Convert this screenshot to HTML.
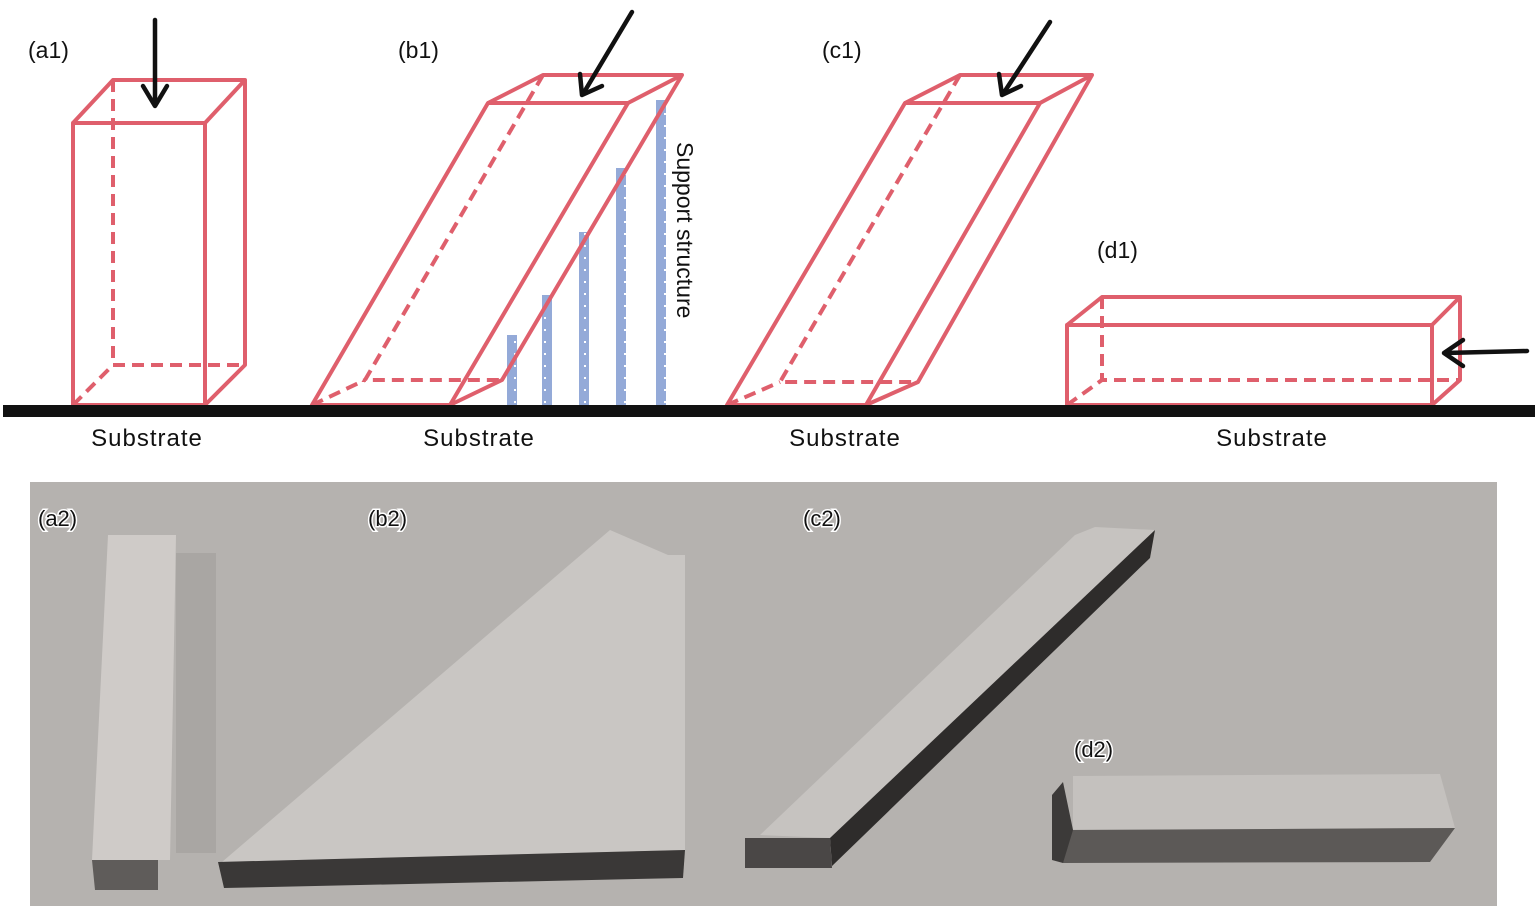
<!DOCTYPE html>
<html><head><meta charset="utf-8"><style>
html,body{margin:0;padding:0;background:#fff;}
svg{display:block;}
</style></head><body>
<svg width="1535" height="911" viewBox="0 0 1535 911" xmlns="http://www.w3.org/2000/svg">
<defs>
<pattern id="dots" width="10" height="12" patternUnits="userSpaceOnUse">
<rect width="10" height="12" fill="#94aad8"/>
<rect x="4" y="5" width="2" height="2" fill="#fff"/>
</pattern>
</defs>
<g font-family="Liberation Sans, sans-serif" fill="#111">
<text x="28" y="58" font-size="23">(a1)</text>
<text x="398" y="58" font-size="23">(b1)</text>
<text x="822" y="58" font-size="23">(c1)</text>
<text x="1097" y="258" font-size="23">(d1)</text>
<g font-size="24" text-anchor="middle" letter-spacing="1">
<text x="147" y="446">Substrate</text>
<text x="479" y="446">Substrate</text>
<text x="845" y="446">Substrate</text>
<text x="1272" y="446">Substrate</text>
</g>
<text transform="translate(677,142) rotate(90)" font-size="23">Support structure</text>
</g>
<g fill="url(#dots)">
<rect x="507" y="335" width="10" height="72"/>
<rect x="542" y="295" width="10" height="112"/>
<rect x="579" y="232" width="10" height="175"/>
<rect x="616" y="168" width="10" height="239"/>
<rect x="656" y="100" width="10" height="307"/>
</g>
<g stroke="#df5f6c" fill="none" stroke-width="4" stroke-linejoin="round">
<rect x="73" y="123" width="132" height="282"/>
<polyline points="73,123 113,80 245,80 245,365 205,405"/>
<line x1="205" y1="123" x2="245" y2="80"/>
<polygon points="312,405 450,405 628,103 488,103"/>
<polyline points="488,103 543,75 682,75 502,380 450,405"/>
<line x1="628" y1="103" x2="682" y2="75"/>
<polygon points="727,405 866,405 1040,103 905,103"/>
<polyline points="905,103 960,75 1092,75 918,382 866,405"/>
<line x1="1040" y1="103" x2="1092" y2="75"/>
<rect x="1067" y="325" width="365" height="80"/>
<polyline points="1067,325 1102,297 1460,297 1460,380 1432,405"/>
<line x1="1432" y1="325" x2="1460" y2="297"/>
</g>
<g stroke="#df5f6c" fill="none" stroke-width="4" stroke-dasharray="12,7">
<polyline points="113,80 113,365 245,365"/><line x1="73" y1="405" x2="113" y2="365"/>
<polyline points="543,75 365,380 502,380"/><line x1="312" y1="405" x2="365" y2="380"/>
<polyline points="960,75 780,382 918,382"/><line x1="727" y1="405" x2="780" y2="382"/>
<polyline points="1102,297 1102,380 1460,380"/><line x1="1067" y1="405" x2="1102" y2="380"/>
</g>
<rect x="3" y="405" width="1532" height="12" fill="#111"/>
<g stroke="#111" stroke-width="4.5" fill="none" stroke-linecap="round" stroke-linejoin="round">
<line x1="155" y1="20" x2="155" y2="105"/><polyline points="143,86 155,106 167,86"/>
<line x1="632" y1="12" x2="583" y2="94"/><polyline points="580,74 582,95 602,86"/>
<line x1="1050" y1="22" x2="1003" y2="94"/><polyline points="999,74 1002,95 1021,86"/>
<line x1="1527" y1="351" x2="1445" y2="353"/><polyline points="1463,340 1444,353 1463,366"/>
</g>
<rect x="30" y="482" width="1467" height="424" fill="#b5b2af"/>
<polygon points="108,535 176,535 170,860 92,860" fill="#cfcbc8"/>
<rect x="176" y="553" width="40" height="300" fill="#a9a6a3"/>
<polygon points="92,860 158,860 158,890 95,890" fill="#5f5c5a"/>
<polygon points="222,862 610,530 668,555 685,555 685,850" fill="#c9c6c3"/>
<polygon points="218,862 685,850 683,878 224,888" fill="#3a3837"/>
<polygon points="760,835 1075,535 1095,527 1155,530 830,838" fill="#c6c3c0"/>
<polygon points="830,838 1155,530 1150,558 832,866" fill="#2e2c2b"/>
<polygon points="745,838 830,838 832,868 745,868" fill="#4a4746"/>
<polygon points="1073,776 1440,774 1455,828 1073,830" fill="#c4c1be"/>
<polygon points="1063,830 1455,828 1430,862 1063,863" fill="#5c5957"/>
<polygon points="1052,795 1063,782 1073,830 1063,863 1052,860" fill="#3c3a39"/>
<g font-family="Liberation Sans, sans-serif" font-size="22" fill="#111" stroke="#fff" stroke-width="3" paint-order="stroke">
<text x="38" y="526">(a2)</text>
<text x="368" y="526">(b2)</text>
<text x="803" y="526">(c2)</text>
<text x="1074" y="757">(d2)</text>
</g>
</svg>
</body></html>
